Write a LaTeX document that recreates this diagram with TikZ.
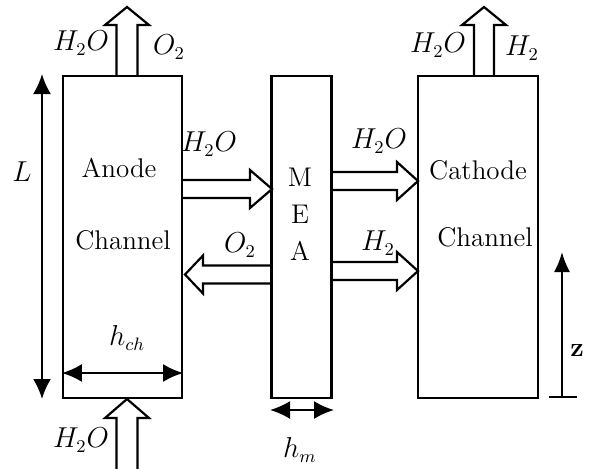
\documentclass[tikz,border=0pt]{standalone}
\usepackage{amsmath}
\usepackage{tikz}
\usetikzlibrary{arrows.meta,positioning,calc}

% hollow flow arrow: base point, angle, length, shaft half-width, head half-width, head length
\newcommand{\flowarrow}[6]{%
  \draw[flow,shift={(#1)},rotate=#2]
    (0,-#4) -- ({#3-#6},-#4) -- ({#3-#6},-#5) -- (#3,0)
    -- ({#3-#6},#5) -- ({#3-#6},#4) -- (0,#4);}

\begin{document}
\begin{tikzpicture}[x=0.5pt,y=-0.5pt,>=Latex,
    chan/.style={draw,line width=1.1pt,inner sep=0pt},
    flow/.style={line width=1.1pt,line join=miter},
    dim/.style={line width=1.1pt,{Latex[length=10pt,width=9pt]}-{Latex[length=10pt,width=9pt]}},
    lbl/.style={inner sep=0pt}]
  \useasboundingbox (0,0) rectangle (589,468);
  \fontsize{13.5}{16}\selectfont
  % channels and membrane
  \node[chan,minimum width=59.5pt,minimum height=161pt] (anode) at (122.5,237) {};
  \node[chan,minimum width=30pt,minimum height=161pt] (mea) at (301.5,237) {};
  \node[chan,minimum width=60pt,minimum height=161pt] (cathode) at (478,237) {};
  \node[lbl] at (119,168) {Anode};
  \node[lbl] at (123,240) {Channel};
  \node[lbl] at (478,170) {Cathode};
  \node[lbl] at (485,237) {Channel};
  \node[lbl] at (300,177) {M};
  \node[lbl] at (300,214) {E};
  \node[lbl] at (300,251) {A};
  % flow arrows
  \coordinate (aout) at (127,76);
  \coordinate (cout) at (484,76);
  \coordinate (ain) at (127,470);
  \coordinate (awat) at (182,189);
  \coordinate (aoxy) at (272,274.5);
  \coordinate (cwat) at (332,181);
  \coordinate (chyd) at (332,271);
  \flowarrow{aout}{90}{69}{10.5}{22}{18}
  \flowarrow{cout}{90}{69}{10}{22}{18}
  \flowarrow{ain}{90}{71}{10.5}{22}{19}
  \flowarrow{awat}{0}{90}{9}{19}{22}
  \flowarrow{aoxy}{180}{87}{9}{19}{18}
  \flowarrow{cwat}{0}{86}{9}{19}{21}
  \flowarrow{chyd}{0}{86}{9}{19}{21}
  % species labels
  \node[lbl] at (81,43) {$H_2O$};
  \node[lbl] at (169,47) {$O_2$};
  \node[lbl] at (438,45) {$H_2O$};
  \node[lbl] at (522,48) {$H_2$};
  \node[lbl] at (81,440) {$H_2O$};
  \node[lbl] at (209,144) {$H_2O$};
  \node[lbl] at (240,245) {$O_2$};
  \node[lbl] at (379,141) {$H_2O$};
  \node[lbl] at (378,243) {$H_2$};
  % dimensions
  \coordinate (ltop) at (42,74);
  \coordinate (lbot) at (42,399);
  \draw[dim] (ltop) -- (lbot);
  \node[lbl] at (22,172) {$L$};
  \draw[dim] ($(anode.west)+(0,136)$) -- ($(anode.east)+(0,136)$);
  \node[lbl] at (127,338) {$h_{ch}$};
  \coordinate (mwest) at (270,410);
  \coordinate (meast) at (334,410);
  \draw[dim] (mwest) -- (meast);
  \node[lbl] at (300,450) {$h_m$};
  % axial coordinate
  \coordinate (zbot) at (562,397);
  \coordinate (ztop) at (562,252);
  \draw[line width=1.1pt,-{Latex[length=10pt,width=8pt]}] (zbot) -- (ztop);
  \draw[line width=1.1pt] ($(zbot)+(-13,0)$) -- ($(zbot)+(15,0)$);
  \node[lbl] at (577,350) {\textbf{z}};
\end{tikzpicture}
\end{document}
